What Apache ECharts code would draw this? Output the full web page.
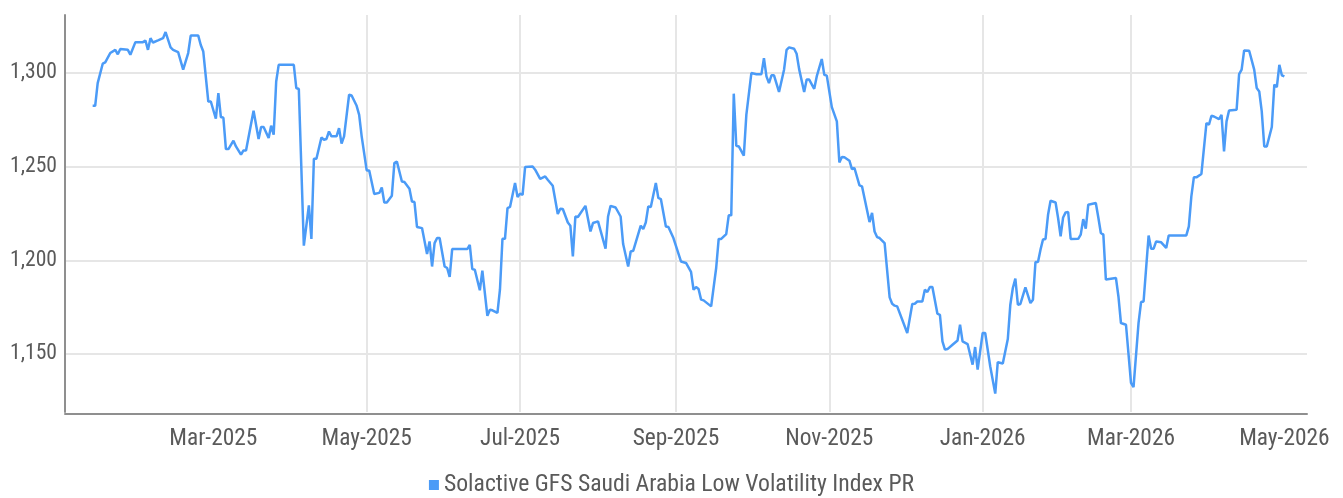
<!DOCTYPE html>
<html>
<head>
<meta charset="utf-8">
<title>Solactive GFS Saudi Arabia Low Volatility Index PR</title>
<script src="https://cdn.jsdelivr.net/npm/echarts@6/dist/echarts.min.js"></script>
<style>
  html, body { margin: 0; padding: 0; background: #ffffff; }
  #chart { width: 1343px; height: 498px; }
</style>
</head>
<body>
<div id="chart"></div>
<script>
// Index level, daily closes
const seriesName = 'Solactive GFS Saudi Arabia Low Volatility Index PR';

const dates = [
  '2025-01-12','2025-01-13','2025-01-14','2025-01-16','2025-01-17','2025-01-19','2025-01-21','2025-01-22','2025-01-23','2025-01-26','2025-01-27','2025-01-29',
  '2025-02-01','2025-02-02','2025-02-03','2025-02-04','2025-02-05','2025-02-07','2025-02-09','2025-02-10','2025-02-12','2025-02-13','2025-02-15','2025-02-17','2025-02-19','2025-02-20','2025-02-23','2025-02-24','2025-02-25','2025-02-27','2025-02-28',
  '2025-03-02','2025-03-03','2025-03-04','2025-03-05','2025-03-06','2025-03-07','2025-03-09','2025-03-10','2025-03-12','2025-03-13','2025-03-14','2025-03-17','2025-03-19','2025-03-20','2025-03-21','2025-03-23','2025-03-24','2025-03-25','2025-03-26','2025-03-27',
  '2025-04-02','2025-04-03','2025-04-04','2025-04-06','2025-04-08','2025-04-09','2025-04-10','2025-04-11','2025-04-13','2025-04-14','2025-04-15','2025-04-16','2025-04-17','2025-04-19','2025-04-20','2025-04-21','2025-04-22','2025-04-24','2025-04-25','2025-04-27','2025-04-28','2025-04-29',
  '2025-05-01','2025-05-02','2025-05-04','2025-05-06','2025-05-07','2025-05-08','2025-05-09','2025-05-11','2025-05-12','2025-05-13','2025-05-15','2025-05-16','2025-05-18','2025-05-19','2025-05-20','2025-05-21','2025-05-23','2025-05-25','2025-05-26','2025-05-27','2025-05-28','2025-05-29','2025-05-30',
  '2025-06-01','2025-06-02','2025-06-03','2025-06-04','2025-06-10','2025-06-11','2025-06-12','2025-06-13','2025-06-15','2025-06-16','2025-06-18','2025-06-19','2025-06-20','2025-06-22','2025-06-23','2025-06-24','2025-06-25','2025-06-26','2025-06-27','2025-06-29','2025-06-30',
  '2025-07-01','2025-07-02','2025-07-03','2025-07-06','2025-07-07','2025-07-09','2025-07-11','2025-07-12','2025-07-14','2025-07-16','2025-07-17','2025-07-18','2025-07-20','2025-07-21','2025-07-22','2025-07-23','2025-07-24','2025-07-27','2025-07-29','2025-07-30',
  '2025-08-01','2025-08-04','2025-08-05','2025-08-06','2025-08-08','2025-08-10','2025-08-11','2025-08-13','2025-08-14','2025-08-15','2025-08-18','2025-08-19','2025-08-20','2025-08-21','2025-08-22','2025-08-24','2025-08-25','2025-08-26','2025-08-28','2025-08-29','2025-08-31',
  '2025-09-03','2025-09-05','2025-09-07','2025-09-08','2025-09-09','2025-09-10','2025-09-11','2025-09-12','2025-09-15','2025-09-17','2025-09-18','2025-09-19','2025-09-21','2025-09-22','2025-09-23','2025-09-24','2025-09-25','2025-09-26','2025-09-28','2025-09-29',
  '2025-10-01','2025-10-03','2025-10-05','2025-10-06','2025-10-07','2025-10-08','2025-10-09','2025-10-10','2025-10-12','2025-10-14','2025-10-15','2025-10-16','2025-10-18','2025-10-19','2025-10-20','2025-10-22','2025-10-23','2025-10-24','2025-10-26','2025-10-27','2025-10-29','2025-10-30','2025-10-31',
  '2025-11-02','2025-11-04','2025-11-05','2025-11-06','2025-11-07','2025-11-09','2025-11-10','2025-11-11','2025-11-13','2025-11-14','2025-11-17','2025-11-18','2025-11-19','2025-11-20','2025-11-21','2025-11-23','2025-11-25','2025-11-26','2025-11-27','2025-11-28',
  '2025-12-02','2025-12-04','2025-12-05','2025-12-06','2025-12-08','2025-12-09','2025-12-10','2025-12-11','2025-12-12','2025-12-14','2025-12-15','2025-12-16','2025-12-17','2025-12-18','2025-12-20','2025-12-22','2025-12-23','2025-12-24','2025-12-26','2025-12-28','2025-12-29','2025-12-30',
  '2026-01-01','2026-01-02','2026-01-04','2026-01-06','2026-01-07','2026-01-09','2026-01-11','2026-01-12','2026-01-13','2026-01-14','2026-01-15','2026-01-16','2026-01-18','2026-01-20','2026-01-21','2026-01-22','2026-01-23','2026-01-24','2026-01-25','2026-01-26','2026-01-27','2026-01-28','2026-01-30','2026-01-31',
  '2026-02-01','2026-02-02','2026-02-03','2026-02-04','2026-02-05','2026-02-08','2026-02-09','2026-02-10','2026-02-11','2026-02-12','2026-02-15','2026-02-16','2026-02-17','2026-02-18','2026-02-19','2026-02-23','2026-02-24','2026-02-25','2026-02-27',
  '2026-03-01','2026-03-02','2026-03-04','2026-03-05','2026-03-06','2026-03-08','2026-03-09','2026-03-10','2026-03-11','2026-03-13','2026-03-15','2026-03-16','2026-03-23','2026-03-24','2026-03-25','2026-03-26','2026-03-27','2026-03-29','2026-03-31',
  '2026-04-01','2026-04-02','2026-04-03','2026-04-05','2026-04-06','2026-04-07','2026-04-08','2026-04-09','2026-04-12','2026-04-13','2026-04-14','2026-04-15','2026-04-17','2026-04-19','2026-04-20','2026-04-21','2026-04-22','2026-04-23','2026-04-24','2026-04-26','2026-04-27','2026-04-28','2026-04-29','2026-04-30',
  '2026-05-01'
];

const values = [
  1282.5,1282.5,1294.6,1305.0,1305.7,1310.7,1312.4,1310.0,1312.8,1312.4,1309.8,1316.5,
  1316.5,1317.4,1312.4,1318.6,1316.3,1317.4,1318.6,1321.9,1313.7,1312.4,1311.2,1301.8,1310.7,1320.0,1320.0,1315.0,1311.5,1284.8,1284.8,
  1275.6,1289.3,1276.5,1276.1,1259.4,1259.4,1263.9,1260.8,1256.4,1258.7,1258.7,1279.9,1264.8,1271.2,1271.2,1265.3,1271.9,1267.1,1295.5,1304.4,
  1304.4,1292.0,1291.5,1207.8,1229.3,1211.4,1254.2,1254.2,1265.6,1264.4,1264.8,1268.8,1266.2,1266.2,1270.6,1262.3,1266.2,1288.4,1288.0,1282.5,1277.7,1266.2,
  1248.0,1248.0,1235.4,1236.0,1238.9,1230.9,1230.9,1234.5,1251.9,1252.8,1242.1,1241.8,1238.2,1231.4,1231.1,1217.8,1217.2,1203.4,1210.1,1196.7,1209.2,1211.9,1211.9,
  1196.7,1195.9,1191.1,1206.0,1206.0,1208.3,1195.3,1195.0,1184.0,1194.5,1170.4,1173.6,1173.3,1171.9,1184.3,1211.5,1211.5,1227.9,1228.5,1241.3,1233.8,
  1235.6,1235.0,1249.8,1250.1,1248.4,1243.5,1244.8,1243.0,1239.8,1224.7,1227.5,1227.4,1220.2,1218.5,1202.1,1223.4,1223.1,1229.1,1215.4,1219.9,
  1220.8,1206.2,1223.4,1229.1,1228.2,1223.4,1208.7,1196.7,1204.7,1205.1,1218.5,1216.7,1220.2,1228.8,1228.5,1241.3,1233.3,1232.7,1218.1,1217.8,1211.9,
  1199.4,1198.6,1193.8,1184.3,1185.7,1184.7,1179.0,1178.6,1175.4,1195.9,1211.4,1211.4,1214.0,1224.0,1224.0,1289.0,1261.2,1260.8,1255.9,1277.7,
  1300.0,1299.4,1299.4,1308.0,1298.2,1294.6,1298.8,1298.8,1289.9,1301.8,1312.4,1313.7,1313.0,1310.3,1302.1,1289.9,1296.5,1296.5,1291.6,1298.2,1307.5,1299.1,1298.6,
  1281.8,1274.2,1252.3,1255.2,1255.0,1253.2,1248.7,1249.3,1240.0,1239.5,1220.4,1225.3,1215.4,1212.4,1211.9,1209.2,1180.2,1176.8,1175.8,1175.4,
  1161.2,1176.7,1176.8,1178.0,1178.0,1184.3,1183.1,1185.7,1185.7,1171.5,1170.9,1156.7,1152.3,1152.6,1154.9,1157.2,1165.6,1156.7,1155.3,1144.3,1153.7,1141.6,
  1161.2,1161.2,1143.4,1128.8,1145.6,1144.9,1158.0,1176.3,1185.2,1190.2,1176.3,1176.7,1185.5,1177.2,1179.0,1199.1,1199.1,1205.7,1211.1,1211.4,1224.3,1231.8,1230.9,1222.6,
  1212.8,1222.9,1225.6,1225.8,1211.4,1211.5,1213.7,1222.0,1216.9,1229.7,1230.6,1222.9,1214.6,1213.7,1189.7,1190.6,1180.7,1166.5,1165.6,
  1134.6,1132.3,1166.6,1177.7,1178.0,1213.2,1206.2,1206.2,1210.1,1209.6,1206.6,1213.3,1213.3,1218.1,1234.1,1244.3,1244.3,1246.1,1273.3,
  1272.4,1277.2,1276.8,1275.4,1277.7,1258.1,1274.2,1280.0,1280.4,1299.4,1301.8,1312.1,1311.9,1301.8,1292.0,1290.2,1279.5,1260.8,1260.8,1271.2,1293.8,1292.5,1304.4,1298.8,
  1298.2
];

// Month marks on the date axis (every second month)
const monthTicks = [
  '2025-03-01','2025-05-01','2025-07-01','2025-09-01','2025-11-01',
  '2026-01-01','2026-03-01','2026-05-01'
];
const axisStart = '2025-01-01';
const axisEnd = '2026-05-10';
const monthNames = ['Jan','Feb','Mar','Apr','May','Jun','Jul','Aug','Sep','Oct','Nov','Dec'];

const TEXT_COLOR = '#5a5a5a';
const AXIS_COLOR = '#8f8f8f';
const GRID_COLOR = '#e6e6e6';
const LINE_COLOR = '#4b9bf7';

// Pick the narrowest installed sans face, then size text to a target width
const measureCtx = document.createElement('canvas').getContext('2d');
function textWidth(text, size, family) {
  measureCtx.font = size + 'px ' + family;
  return measureCtx.measureText(text).width;
}
function isInstalled(name) {
  const probe = 'Mar-2025 Solactive 1,300';
  return textWidth(probe, 40, "'" + name + "', monospace") !== textWidth(probe, 40, 'monospace');
}
const narrowFaces = ['Roboto Condensed', 'Liberation Sans Narrow', 'Open Sans Condensed', 'DejaVu Sans Condensed'];
const face = narrowFaces.find(isInstalled) || 'DejaVu Sans';
const FONT = "'" + face + "', sans-serif";
function sizeFor(text, targetWidth) {
  return Math.round(100 * targetWidth / textWidth(text, 100, FONT) * 10) / 10;
}
const xLabelSize = sizeFor('Mar-2025', 88);
const yLabelSize = sizeFor('1,300', 47);
const legendSize = sizeFor(seriesName, 471);

// Dates become UTC timestamps on a numeric axis
const toTime = s => Date.parse(s + 'T00:00:00Z');
const data = dates.map((d, i) => [toTime(d), values[i]]);
const tickTimes = monthTicks.map(toTime);

const chart = echarts.init(document.getElementById('chart'), null, { renderer: 'canvas' });

chart.setOption({
  animation: false,
  backgroundColor: '#ffffff',
  grid: { left: 65, right: 36, top: 15, bottom: 86, containLabel: false, outerBoundsMode: 'none' },
  legend: {
    data: [seriesName],
    left: 'center',
    top: 468,
    icon: 'rect',
    itemWidth: 10,
    itemHeight: 10,
    itemGap: 4,
    textStyle: { color: TEXT_COLOR, fontSize: legendSize, fontFamily: FONT }
  },
  xAxis: {
    type: 'value',
    min: toTime(axisStart),
    max: toTime(axisEnd),
    offset: 2,
    axisLine: { show: true, lineStyle: { color: AXIS_COLOR, width: 2 } },
    axisTick: { show: false, customValues: tickTimes },
    axisLabel: {
      customValues: tickTimes,
      color: TEXT_COLOR,
      fontSize: xLabelSize,
      fontFamily: FONT,
      margin: 14,
      hideOverlap: false,
      formatter: function (v) {
        const d = new Date(v);
        return monthNames[d.getUTCMonth()] + '-' + d.getUTCFullYear();
      }
    },
    splitLine: {
      show: true,
      showMinLine: false,
      showMaxLine: false,
      lineStyle: { color: GRID_COLOR, width: 2 }
    }
  },
  yAxis: {
    type: 'value',
    min: 1119,
    max: 1331,
    splitNumber: 4,
    axisLine: { show: true, lineStyle: { color: AXIS_COLOR, width: 2 } },
    axisTick: { show: false },
    axisLabel: {
      showMinLabel: false,
      showMaxLabel: false,
      color: TEXT_COLOR,
      fontSize: yLabelSize,
      fontFamily: FONT,
      margin: 8,
      formatter: function (v) { return v.toLocaleString('en-US'); }
    },
    splitLine: {
      show: true,
      showMinLine: false,
      showMaxLine: false,
      lineStyle: { color: GRID_COLOR, width: 2 }
    }
  },
  series: [{
    name: seriesName,
    type: 'line',
    data: data,
    showSymbol: false,
    symbol: 'none',
    lineStyle: { color: LINE_COLOR, width: 2.5 },
    itemStyle: { color: LINE_COLOR }
  }]
});
</script>
</body>
</html>
